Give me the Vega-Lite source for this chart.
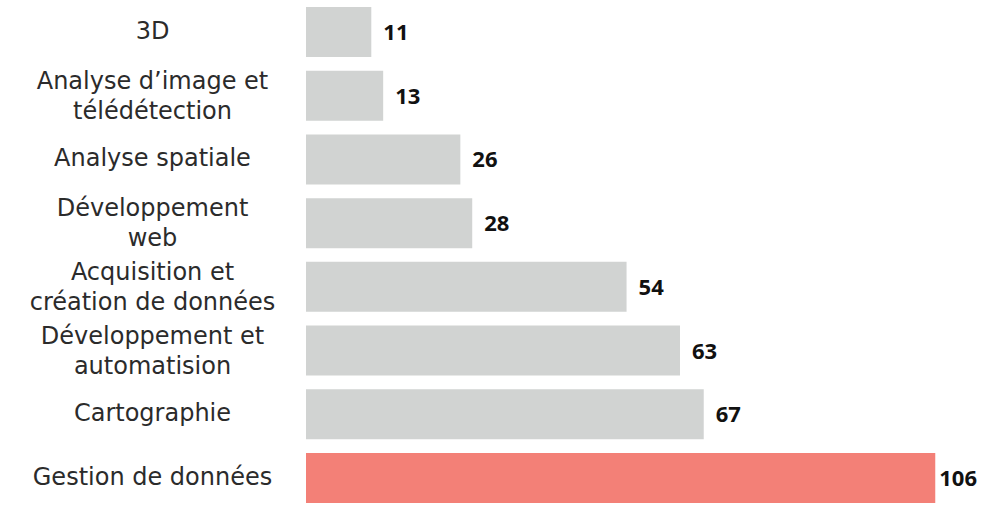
{
  "$schema": "https://vega.github.io/schema/vega-lite/v6.json",
  "width": 672,
  "height": 510,
  "autosize": {"type": "none"},
  "padding": {"left": 306, "top": 0, "right": 5, "bottom": 16},
  "background": "white",
  "config": {"view": {"stroke": null}, "font": "DejaVu Sans"},
  "data": {
    "values": [
      {"cat": "3D", "value": 11, "group": "autre"},
      {"cat": "Analyse d’image et|télédétection", "value": 13, "group": "autre"},
      {"cat": "Analyse spatiale", "value": 26, "group": "autre"},
      {"cat": "Développement|web", "value": 28, "group": "autre"},
      {"cat": "Acquisition et|création de données", "value": 54, "group": "autre"},
      {"cat": "Développement et|automatision", "value": 63, "group": "autre"},
      {"cat": "Cartographie", "value": 67, "group": "autre"},
      {"cat": "Gestion de données", "value": 106, "group": "max"}
    ]
  },
  "encoding": {
    "y": {
      "field": "cat",
      "type": "nominal",
      "sort": ["3D", "Analyse d’image et|télédétection", "Analyse spatiale", "Développement|web", "Acquisition et|création de données", "Développement et|automatision", "Cartographie", "Gestion de données"],
      "scale": {"paddingInner": 0.215, "paddingOuter": 0.11},
      "axis": {
        "title": null,
        "domain": false,
        "ticks": false,
        "labelAlign": "center",
        "labelBaseline": "middle",
        "labelPadding": 154,
        "labelOffset": {"condition": {"test": "indexof(datum.value, '|') >= 0", "value": -14}, "value": 0},
        "labelFontSize": 24,
        "labelColor": "#2b2b2b",
        "labelLineHeight": 30,
        "labelFont": "DejaVu Sans",
        "labelLimit": 400,
        "labelExpr": "split(datum.value, '|')"
      }
    },
    "x": {
      "field": "value",
      "type": "quantitative",
      "scale": {"domain": [0, 113.2], "nice": false},
      "axis": null
    }
  },
  "layer": [
    {
      "mark": {"type": "bar"},
      "encoding": {
        "color": {
          "field": "group",
          "type": "nominal",
          "scale": {"domain": ["autre", "max"], "range": ["#d1d3d2", "#f38077"]},
          "legend": null
        }
      }
    },
    {
      "transform": [{"filter": "datum.group == 'autre'"}],
      "mark": {"type": "text", "align": "left", "baseline": "middle", "dx": 12, "dy": 1, "fontSize": 22, "fontWeight": "bold", "font": "Open Sans", "color": "#111"},
      "encoding": {"text": {"field": "value", "type": "quantitative"}}
    },
    {
      "transform": [{"filter": "datum.group == 'max'"}],
      "mark": {"type": "text", "align": "left", "baseline": "middle", "dx": 4, "dy": 1, "fontSize": 22, "fontWeight": "bold", "font": "Open Sans", "color": "#111"},
      "encoding": {"text": {"field": "value", "type": "quantitative"}}
    }
  ]
}
